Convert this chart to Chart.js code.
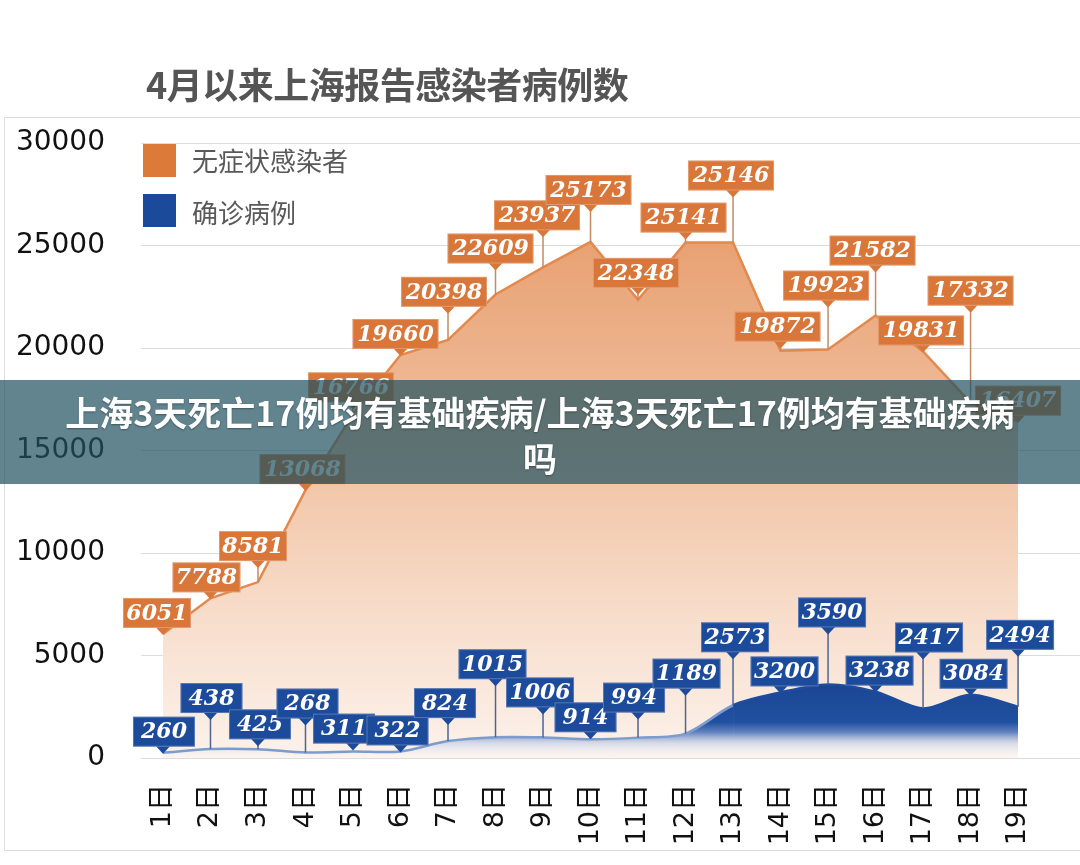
<!DOCTYPE html>
<html>
<head>
<meta charset="utf-8">
<script src="https://cdn.jsdelivr.net/npm/chart.js@4.4.1/dist/chart.umd.min.js"></script>
<style>
  html, body { margin:0; padding:0; background:#fff; }
  #wrap { position:relative; width:1080px; height:865px; overflow:hidden; background:#fff; }
  #frame { position:absolute; left:4px; top:117px; width:1100px; height:734px; border:1.5px solid #dedede; box-sizing:border-box; }
  #title { position:absolute; left:146px; top:63px; font-family:"Noto Sans CJK SC"; font-weight:700; font-size:36px; line-height:40px; color:#555555; letter-spacing:-0.5px; white-space:nowrap; }
  .lg-sw { position:absolute; left:143px; width:33px; height:33px; }
  .lg-tx { position:absolute; left:192px; font-family:"Noto Sans CJK SC"; font-size:26px; line-height:30px; color:#595959; white-space:nowrap; }
  #band { position:absolute; left:0; top:380px; width:1080px; height:104px; background:rgba(30,80,95,0.70); }
  #bandtext { position:absolute; left:0; top:389px; width:1080px; text-align:center; font-family:"Noto Sans CJK SC"; font-weight:700; font-size:34px; line-height:46px; color:#fff; text-shadow:0 1px 2px rgba(0,0,0,0.35); }
  canvas { position:absolute; left:0; top:0; }
</style>
</head>
<body>
<div id="wrap">
  <div id="frame"></div>
  <canvas id="c" width="1080" height="865"></canvas>
  <div id="title">4月以来上海报告感染者病例数</div>
  <div class="lg-sw" style="top:144px;background:#db7a39;"></div>
  <div class="lg-tx" style="top:145px;">无症状感染者</div>
  <div class="lg-sw" style="top:194px;background:#1c4a9a;"></div>
  <div class="lg-tx" style="top:197px;">确诊病例</div>
  <div id="band"></div>
  <div id="bandtext">上海3天死亡17例均有基础疾病/上海3天死亡17例均有基础疾病<br>吗</div>
</div>
<script>
// ---- data ----
const categories = ['1日','2日','3日','4日','5日','6日','7日','8日','9日','10日','11日','12日','13日','14日','15日','16日','17日','18日','19日'];
const asymptomatic = [6051,7788,8581,13068,16766,19660,20398,22609,23937,25173,22348,25141,25146,19872,19923,21582,19831,17332,16407];
const confirmed = [260,438,425,268,311,322,824,1015,1006,914,994,1189,2573,3200,3590,3238,2417,3084,2494];
const yTickValues = [0,5000,10000,15000,20000,25000,30000];
const seriesNames = ['无症状感染者','确诊病例'];

// ---- callout layout (pixels) ----
const orangeLift = [6,6,21,6,12,6,33,31,37,37,12,10,52,9,49,50,6,97,6];
const orangeDx   = [-6,-4,-5,-3,-2,-5,-4,-5,-6,-2,-2,-2,-2,-3,-2,-3,-2,0,0];
const blueLift   = [6,36,10,34,8,6,23,58,30,7,25,45,53,6,57,6,56,6,57];
const blueDx     = [1,1,2,2,-9,-3,-3,-3,-3,-5,-4,1,2,4,4,4,6,3,2];
const boxWidthByDigits = { 3: 62, 4: 68, 5: 86 };

const calloutPlugin = {
  id: 'callouts',
  afterDatasetsDraw(chart) {
    const ctx = chart.ctx;
    const draw = (dsIndex, values, lifts, dxs, fill, lineColor) => {
      const meta = chart.getDatasetMeta(dsIndex);
      values.forEach((v, i) => {
        const el = meta.data[i];
        const px = el.x, py = el.y;
        const text = String(v);
        const w = boxWidthByDigits[text.length] || text.length * 17, h = 30;
        const bottom = py - lifts[i];
        const cx = px + dxs[i];
        const left = cx - w / 2, top = bottom - h;
        ctx.save();
        if (lifts[i] > 8) {
          ctx.strokeStyle = lineColor; ctx.lineWidth = 1.5;
          ctx.beginPath(); ctx.moveTo(px, bottom); ctx.lineTo(px, py); ctx.stroke();
        }
        ctx.fillStyle = fill;
        ctx.fillRect(left, top, w, h);
        ctx.beginPath();
        ctx.moveTo(px - 7, bottom - 0.5); ctx.lineTo(px + 7, bottom - 0.5); ctx.lineTo(px, bottom + 7);
        ctx.closePath(); ctx.fill();
        ctx.strokeStyle = 'rgba(255,255,255,0.25)'; ctx.lineWidth = 1;
        ctx.strokeRect(left + 0.5, top + 0.5, w - 1, h - 1);
        ctx.fillStyle = '#ffffff';
        ctx.font = 'italic bold 22px "DejaVu Serif"';
        ctx.textAlign = 'center'; ctx.textBaseline = 'middle';
        ctx.fillText(text, cx, top + h / 2 + 1);
        ctx.restore();
      });
    };
    draw(1, asymptomatic, orangeLift, orangeDx, '#d9773a', '#c48a62');
    draw(0, confirmed, blueLift, blueDx, '#1d4b9b', '#4d6590');
  }
};

const orangeFill = (c) => {
  const chart = c.chart;
  if (!chart.chartArea) return 'rgba(240,190,150,0.7)';
  const y = chart.scales.y;
  const g = chart.ctx.createLinearGradient(0, y.getPixelForValue(25500), 0, y.getPixelForValue(0));
  g.addColorStop(0, '#e8a071');
  g.addColorStop(0.4, '#f0c09f');
  g.addColorStop(0.75, '#f8dfce');
  g.addColorStop(1, '#fcf2eb');
  return g;
};
const blueFill = (c) => {
  const chart = c.chart;
  if (!chart.chartArea) return 'rgba(30,75,155,0.8)';
  const y = chart.scales.y;
  const g = chart.ctx.createLinearGradient(0, y.getPixelForValue(3600), 0, y.getPixelForValue(0));
  g.addColorStop(0, '#1a4594');
  g.addColorStop(0.52, '#2151a1');
  g.addColorStop(0.65, 'rgba(85,120,188,0.92)');
  g.addColorStop(0.8, 'rgba(190,205,232,0.6)');
  g.addColorStop(1, 'rgba(255,255,255,0.2)');
  return g;
};

new Chart(document.getElementById('c'), {
  type: 'line',
  data: {
    datasets: [
      {
        label: seriesNames[1],
        data: confirmed.map((v, i) => ({ x: i + 1, y: v })),
        fill: 'origin',
        backgroundColor: blueFill,
        borderColor: '#7c9ccb',
        borderWidth: 2.5,
        tension: 0.3,
        pointRadius: 0,
        segment: {
          borderColor: (ctx) => (ctx.p0.parsed.y > 2000 && ctx.p1.parsed.y > 2000) ? '#1e4c9c' : '#7c9ccb'
        }
      },
      {
        label: seriesNames[0],
        data: asymptomatic.map((v, i) => ({ x: i + 1, y: v })),
        fill: 'origin',
        backgroundColor: orangeFill,
        borderColor: '#e3894d',
        borderWidth: 2.5,
        tension: 0,
        pointRadius: 0
      }
    ]
  },
  options: {
    responsive: false,
    animation: false,
    layout: { padding: { left: 16, top: 143, right: 0, bottom: 7 } },
    plugins: { legend: { display: false }, tooltip: { enabled: false } },
    scales: {
      x: {
        type: 'linear',
        min: 0.5374,
        max: 20.3037,
        afterBuildTicks: (s) => { s.ticks = categories.map((c, i) => ({ value: i + 1 })); },
        afterFit: (s) => { s.height = 100; },
        grid: { display: false },
        border: { display: false },
        ticks: {
          autoSkip: false,
          minRotation: 90,
          maxRotation: 90,
          padding: 18,
          color: '#111',
          font: { family: '"DejaVu Sans", "Noto Sans CJK SC"', size: 27 },
          callback: (v) => categories[Math.round(v) - 1] || ''
        }
      },
      y: {
        min: 0,
        max: 30000,
        afterBuildTicks: (s) => { s.ticks = yTickValues.map(v => ({ value: v })); },
        afterFit: (s) => { s.width = 125; },
        grid: { color: '#dcdcdc', lineWidth: 1, drawTicks: false },
        border: { display: false },
        ticks: {
          padding: 36,
          color: '#111',
          font: { family: '"DejaVu Sans"', size: 28 },
          callback: (v) => String(v)
        }
      }
    }
  },
  plugins: [calloutPlugin]
});
</script>
</body>
</html>
